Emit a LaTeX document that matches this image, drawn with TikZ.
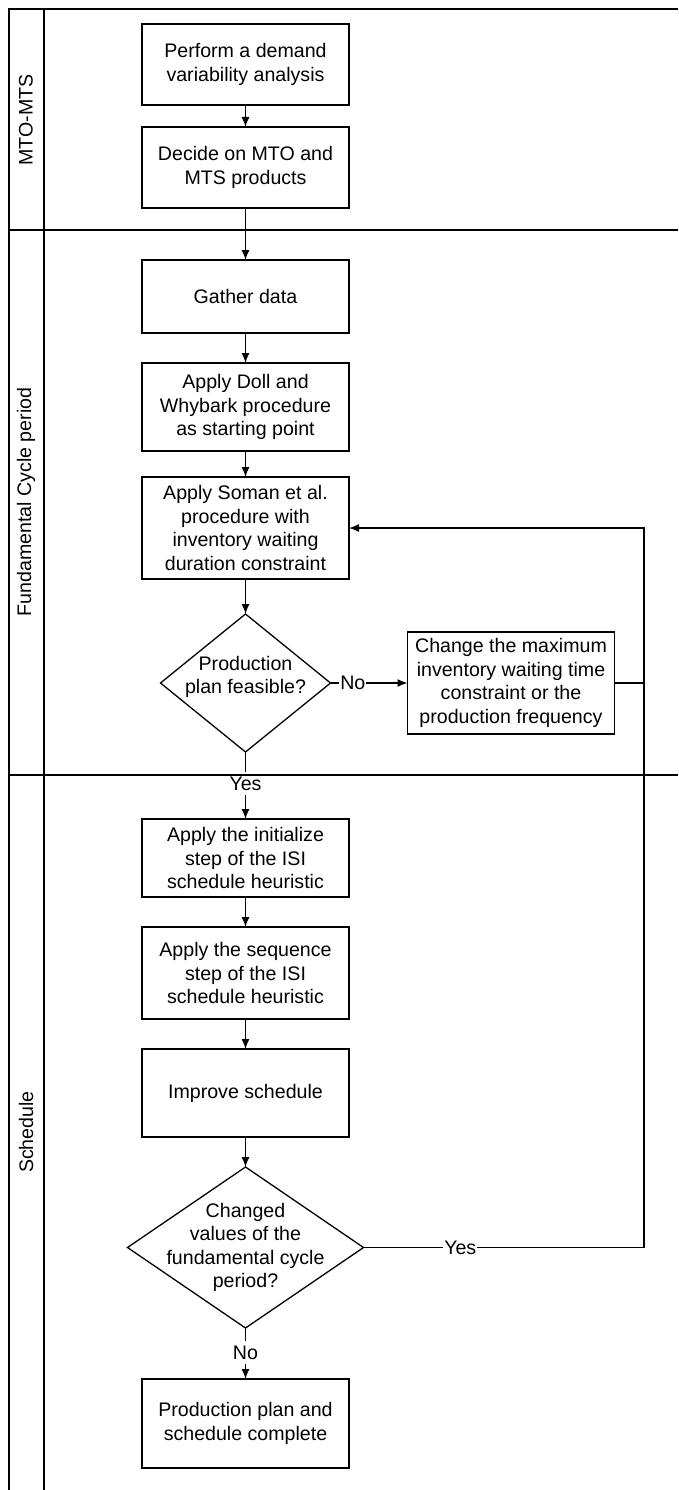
\documentclass[tikz,border=0pt]{standalone}
\usepackage{fontspec}
\setmainfont{Liberation Sans}
\usetikzlibrary{positioning}
\usetikzlibrary{shapes.geometric}
\usetikzlibrary{arrows.meta}

\begin{document}
\begin{tikzpicture}
		[x=1pt, y=-1pt, line width=1.3pt, >={Latex[length=10pt,width=8pt]},
		 font=\fontsize{19.6}{23.5}\selectfont,
		 process/.style={rectangle, draw=black, align=center, inner sep=0pt, outer sep=0pt, minimum width=207pt},
		 decision/.style={diamond, draw=black, inner sep=0pt, outer sep=0pt},
		 lane/.style={rotate=90},
		 answer/.style={inner sep=4pt},
		 inline/.style={fill=white, inner sep=1pt}]
		\useasboundingbox (0,0) rectangle (678,1490);

		% swimlanes
		\draw (9,1490) -- (9,9) -- (678,9);
		\draw (44,9) -- (44,1490);
		\draw (9,230) -- (678,230);
		\draw (9,775) -- (678,775);
		\node[lane] (mtolane) at (26,120) {MTO-MTS};
		\node[lane] (cyclelane) at (26,502) {Fundamental Cycle period};
		\node[lane] (schedlane) at (26,1132) {Schedule};

		\node[process, minimum height=81pt] (demand) at (245.5,64.5) {Perform a demand\\variability analysis};
		\node[process, minimum height=81pt, below=22pt of demand] (decide) {Decide on MTO and\\MTS products};
		\node[process, minimum height=73pt, below=52pt of decide] (gather) {Gather data};
		\node[process, minimum height=88pt, below=30pt of gather] (doll) {Apply Doll and\\Whybark procedure\\as starting point};
		\node[process, minimum height=102pt, below=26pt of doll] (soman) {Apply Soman et al.\\procedure with\\inventory waiting\\duration constraint};
		\node[decision, minimum width=170pt, minimum height=138pt, below=35pt of soman,
			label={[align=center, yshift=6pt]center:{Production\\plan feasible?}}] (feasible) {};
		\node[process, minimum height=102pt, right=77pt of feasible] (change) {Change the maximum\\inventory waiting time\\constraint or the\\production frequency};
		\node[answer, below=20pt of feasible] (yes1) {Yes};
		\node[process, minimum height=78pt, below=67pt of feasible] (init) {Apply the initialize\\step of the ISI\\schedule heuristic};
		\node[process, minimum height=92pt, below=30pt of init] (sequence) {Apply the sequence\\step of the ISI\\schedule heuristic};
		\node[process, minimum height=88pt, below=30pt of sequence] (improve) {Improve schedule};
		\node[decision, minimum width=236pt, minimum height=161pt, below=30pt of improve,
			label={[align=center]center:{Changed\\values of the\\fundamental cycle\\period?}}] (changed) {};
		\node[answer, below=13pt of changed] (no2) {No};
		\node[process, minimum height=89pt, below=51pt of changed] (complete) {Production plan and\\schedule complete};
		\coordinate (rightrail) at (644,0);

		\draw[->] (demand) -- (decide);
		\draw[->] (decide) -- (gather);
		\draw[->] (gather) -- (doll);
		\draw[->] (doll) -- (soman);
		\draw[->] (soman) -- (feasible);
		\draw[->] (feasible) -- node[inline, pos=0.29] (no1) {No} (change);
		\draw (feasible) -- (yes1);
		\draw[->] (yes1) -- (init);
		\draw[->] (init) -- (sequence);
		\draw[->] (sequence) -- (improve);
		\draw[->] (improve) -- (changed);
		\draw (changed) -- (no2);
		\draw[->] (no2) -- (complete);
		\draw (change.east) -- (change.east -| rightrail);
		\draw[->] (changed.east) -- node[inline, pos=0.345] (yes2) {Yes} (changed.east -| rightrail) |- (soman.east);
	\end{tikzpicture}
\end{document}
